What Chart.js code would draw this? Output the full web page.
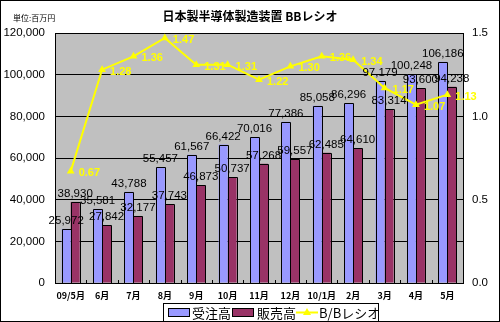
<!DOCTYPE html>
<html><head><meta charset="utf-8">
<script src="https://cdn.jsdelivr.net/npm/chart.js@4"></script>
<style>html,body{margin:0;padding:0;background:#fff}#wrap{width:500px;height:322px;position:relative}</style>
</head><body><div id="wrap"><canvas id="c" width="500" height="322"></canvas></div>
<script>
const categories = ['09/5月','6月','7月','8月','9月','10月','11月','12月','10/1月','2月','3月','4月','5月'];
const orders = [25972,35581,43788,55457,61567,66422,70016,77386,85058,86296,97179,100248,106186];
const sales = [38930,27842,32177,37743,46873,50737,57268,59557,62485,64610,83314,93600,94238];
const bbRatio = [0.67,1.28,1.36,1.47,1.31,1.31,1.22,1.30,1.36,1.34,1.17,1.07,1.13];
const leftTicks = [0,20000,40000,60000,80000,100000,120000];
const rightTicks = [0,0.5,1.0,1.5];
const titleText = '日本製半導体製造装置 BBレシオ';
const unitText = '単位:百万円';
const seriesNames = ['受注高','販売高','B/Bレシオ'];

const NUMFONT = '"Liberation Sans", Arial, sans-serif';
const JPFONT = '"Noto Sans CJK JP", sans-serif';

const decor = {
  id: 'decor',
  beforeDraw(chart) {
    const {ctx, chartArea: a} = chart;
    ctx.save();
    ctx.fillStyle = '#fff';
    ctx.fillRect(0,0,chart.width,chart.height);
    ctx.fillStyle = '#C0C0C0';
    ctx.fillRect(a.left, a.top, a.right-a.left, a.bottom-a.top);
    ctx.restore();
  },
  afterDatasetDraw(chart, args) {
    const ds = chart.data.datasets[args.index];
    if (ds.type === 'line') return;
    const ctx = chart.ctx;
    ctx.save();
    ctx.strokeStyle = '#000';
    ctx.lineWidth = 1;
    args.meta.data.forEach(bar => {
      const p = bar.getProps(['x','y','base','width'], true);
      const l = Math.round(p.x - p.width / 2) + 0.5;
      const r = Math.round(p.x + p.width / 2) + 0.5;
      const t = Math.round(p.y) + 0.5;
      const b = Math.round(p.base) + 0.5;
      ctx.beginPath();
      ctx.moveTo(l, b); ctx.lineTo(l, t); ctx.lineTo(r, t); ctx.lineTo(r, b);
      ctx.stroke();
    });
    ctx.restore();
  },
  afterDatasetsDraw(chart) {
    const ctx = chart.ctx;
    const a = chart.chartArea;
    ctx.save();
    ctx.strokeStyle = '#000';
    ctx.lineWidth = 1;
    const n = categories.length;
    const w = (a.right - a.left) / n;
    ctx.beginPath();
    for (let i = 1; i < n; i++) {
      const x = Math.round(a.left + i * w) + 0.5;
      ctx.moveTo(x, a.bottom); ctx.lineTo(x, a.bottom - 3);
    }
    ctx.stroke();
    ctx.font = '11.5px ' + NUMFONT;
    ctx.fillStyle = '#000';
    ctx.textAlign = 'center';
    ctx.textBaseline = 'alphabetic';
    [0,1].forEach(di => {
      const meta = chart.getDatasetMeta(di);
      meta.data.forEach((bar, i) => {
        const v = chart.data.datasets[di].data[i];
        ctx.fillText(v.toLocaleString('en-US'), bar.x, bar.y - 5);
      });
    });
    ctx.font = 'bold 11px ' + NUMFONT;
    ctx.fillStyle = '#FFFF00';
    ctx.textAlign = 'left';
    ctx.textBaseline = 'middle';
    const lm = chart.getDatasetMeta(2);
    lm.data.forEach((p, i) => {
      ctx.fillText(chart.data.datasets[2].data[i].toFixed(2), p.x + 8, p.y + 2);
    });
    ctx.restore();
  },
  afterDraw(chart) {
    const ctx = chart.ctx;
    const ds = chart.data.datasets;
    ctx.save();
    ctx.fillStyle = '#000';
    ctx.font = 'bold 12px ' + JPFONT;
    ctx.textAlign = 'center';
    ctx.textBaseline = 'middle';
    ctx.fillText(titleText, 250, 16);
    ctx.font = '8px ' + JPFONT;
    ctx.textAlign = 'left';
    ctx.fillText(unitText, 13, 18);
    ctx.fillStyle = '#fff';
    ctx.fillRect(163.5, 303.5, 215, 18);
    ctx.strokeStyle = '#000';
    ctx.lineWidth = 1;
    ctx.strokeRect(163.5, 303.5, 215, 18);
    ctx.font = '13px ' + JPFONT;
    ctx.textBaseline = 'middle';
    ctx.fillStyle = ds[0].backgroundColor;
    ctx.fillRect(168.5, 308.5, 21, 8);
    ctx.strokeRect(168.5, 308.5, 21, 8);
    ctx.fillStyle = '#000';
    ctx.fillText(ds[0].label, 192, 313);
    ctx.fillStyle = ds[1].backgroundColor;
    ctx.fillRect(232.5, 308.5, 21, 8);
    ctx.strokeRect(232.5, 308.5, 21, 8);
    ctx.fillStyle = '#000';
    ctx.fillText(ds[1].label, 257, 313);
    ctx.strokeStyle = ds[2].borderColor;
    ctx.lineWidth = 2;
    ctx.beginPath(); ctx.moveTo(296, 312.5); ctx.lineTo(318, 312.5); ctx.stroke();
    ctx.fillStyle = ds[2].borderColor;
    ctx.beginPath(); ctx.moveTo(307, 308); ctx.lineTo(311, 315); ctx.lineTo(303, 315); ctx.closePath(); ctx.fill();
    ctx.fillStyle = '#000';
    ctx.fillText(ds[2].label, 319, 313);
    ctx.strokeStyle = '#000';
    ctx.lineWidth = 1;
    ctx.strokeRect(0.5, 0.5, 499, 321);
    ctx.restore();
  }
};

new Chart(document.getElementById('c'), {
  type: 'bar',
  data: {
    labels: categories,
    datasets: [
      {label: seriesNames[0], data: orders, backgroundColor: '#9999FF', borderWidth: 0, inflateAmount: 0, yAxisID: 'y', order: 1, categoryPercentage: 0.5735, barPercentage: 1.0},
      {label: seriesNames[1], data: sales, backgroundColor: '#993366', borderWidth: 0, inflateAmount: 0, yAxisID: 'y', order: 1, categoryPercentage: 0.5735, barPercentage: 1.0},
      {label: seriesNames[2], type: 'line', data: bbRatio, borderColor: '#FFFF00', backgroundColor: '#FFFF00', borderWidth: 2, pointStyle: 'triangle', pointRadius: 4.5, pointBorderWidth: 0, yAxisID: 'y1', order: 0, tension: 0}
    ]
  },
  options: {
    responsive: false,
    animation: false,
    devicePixelRatio: 1,
    layout: {padding: {top: 33, left: 0, right: 0, bottom: 0}},
    plugins: {legend: {display: false}, title: {display: false}, tooltip: {enabled: false}},
    scales: {
      x: {
        grid: {display: false, drawTicks: false},
        border: {display: true, color: '#000', width: 1},
        ticks: {font: {family: JPFONT, size: 9, weight: 'bold'}, color: '#000', padding: 7, maxRotation: 0, autoSkip: false},
        afterFit(s) { s.height = 39; }
      },
      y: {
        position: 'left',
        min: 0, max: 120000,
        afterBuildTicks(s) { s.ticks = leftTicks.map(v => ({value: v})); },
        ticks: {font: {family: NUMFONT, size: 11.5}, color: '#000', padding: 10, callback: v => v.toLocaleString('en-US')},
        grid: {color: '#000', lineWidth: 1, drawTicks: false},
        border: {display: true, color: '#000', width: 1},
        afterFit(s) { s.width = 55; }
      },
      y1: {
        position: 'right',
        min: 0, max: 1.5,
        afterBuildTicks(s) { s.ticks = rightTicks.map(v => ({value: v})); },
        ticks: {font: {family: NUMFONT, size: 11.5}, color: '#000', padding: 9, callback: v => v.toFixed(1)},
        grid: {drawOnChartArea: false, drawTicks: false, color: '#000'},
        border: {display: true, color: '#000', width: 1},
        afterFit(s) { s.width = 37; }
      }
    }
  },
  plugins: [decor]
});
</script></body></html>
